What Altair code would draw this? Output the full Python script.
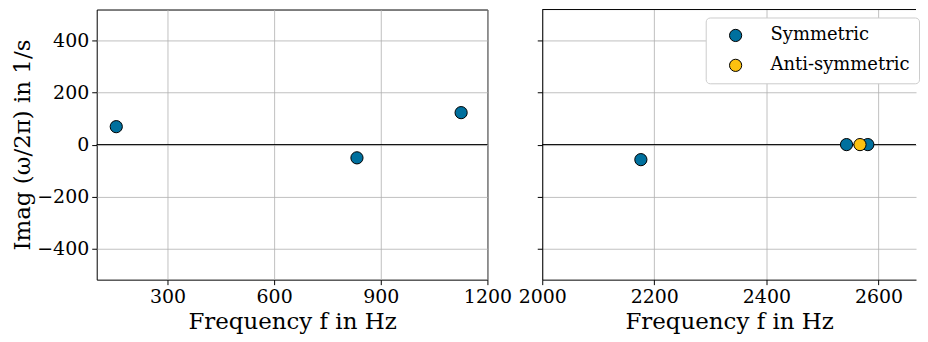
import altair as alt
import pandas as pd

# ---- data ----
left_freq = [156, 833, 1126]
left_imag = [69, -51, 123]
left_type = ["Symmetric", "Symmetric", "Symmetric"]

right_freq = [2176, 2543, 2581, 2567]
right_imag = [-58, 0, 0, 0]
right_type = ["Symmetric", "Symmetric", "Symmetric", "Anti-symmetric"]

types = ["Symmetric", "Anti-symmetric"]
colors = ["#00709e", "#fcc110"]

y_ticks = [-400, -200, 0, 200, 400]
left_ticks = [300, 600, 900, 1200]
right_ticks = [2000, 2200, 2400, 2600]

left_df = pd.DataFrame({"f": left_freq, "im": left_imag, "type": left_type})
right_df = pd.DataFrame({"f": right_freq, "im": right_imag, "type": right_type})
zero_df = pd.DataFrame({"y": [0]})

FONT = "DejaVu Serif"
H = 271
YDOM = [-520, 520]


def panel(df, xdom, xticks, width, left_panel, legend):
    y_axis = alt.Axis(
        values=y_ticks,
        format="d",
        labels=left_panel,
        title="Imag (ω/2π) in 1/s" if left_panel else None,
        grid=True,
        gridColor="#b0b0b0",
        gridWidth=0.8,
        tickColor="black",
        tickSize=5,
        domain=not left_panel,
        domainColor="black",
        domainWidth=1,
        labelFontSize=19,
        labelPadding=3,
        titleFontSize=23,
        titleFontWeight="normal",
        titlePadding=2,
        labelFont=FONT,
        titleFont=FONT,
        labelColor="black",
        titleColor="black",
    )
    x_axis = alt.Axis(
        values=xticks,
        format="d",
        title="Frequency f in Hz",
        grid=True,
        gridColor="#b0b0b0",
        gridWidth=0.8,
        tickColor="black",
        tickSize=5,
        domain=not left_panel,
        domainColor="black",
        domainWidth=1,
        labelFontSize=19,
        labelPadding=3,
        titleFontSize=23,
        titleFontWeight="normal",
        titlePadding=4,
        labelFont=FONT,
        titleFont=FONT,
        labelColor="black",
        titleColor="black",
        labelFlush=False,
        labelOverlap=False,
    )
    xs = alt.Scale(domain=xdom, nice=False, zero=False)
    ys = alt.Scale(domain=YDOM, nice=False)

    zero = alt.Chart(zero_df).mark_rule(color="black", strokeWidth=1).encode(
        y=alt.Y("y:Q", scale=ys, axis=y_axis)
    )
    pts = alt.Chart(df).mark_point(
        filled=True, size=150, stroke="black", strokeWidth=1, opacity=1
    ).encode(
        x=alt.X("f:Q", scale=xs, axis=x_axis),
        y=alt.Y("im:Q", scale=ys, axis=y_axis),
        color=alt.Color(
            "type:N",
            scale=alt.Scale(domain=types, range=colors),
            legend=legend,
        ),
    )
    layers = [zero]
    if not left_panel:
        # top frame line at the upper end of the y domain (plot is cut at the right)
        top_df = pd.DataFrame({"y": [YDOM[1]]})
        layers.append(
            alt.Chart(top_df).mark_rule(color="black", strokeWidth=1).encode(
                y=alt.Y("y:Q", scale=ys, axis=y_axis)
            )
        )
    layers.append(pts)
    ch = alt.layer(*layers).properties(width=width, height=H)
    if not left_panel:
        ch = ch.properties(view=alt.ViewBackground(strokeOpacity=0))
    return ch


legend = alt.Legend(
    title=None,
    orient="none",
    legendX=164,
    legendY=8,
    symbolType="circle",
    symbolSize=150,
    symbolStrokeColor="black",
    symbolStrokeWidth=1,
    symbolOffset=12,
    labelFont=FONT,
    labelFontSize=18,
    labelColor="black",
    labelOffset=26,
    rowPadding=12,
    padding=9,
    strokeColor="#cccccc",
    fillColor="white",
    cornerRadius=4,
)

left = panel(left_df, [101, 1200], left_ticks, 392, True, None)
right = panel(right_df, [2000, 2667], right_ticks, 375, False, legend)

chart = (
    alt.hconcat(left, right, spacing=55, bounds="flush")
    .resolve_scale(color="independent")
    .properties(padding={"left": 3, "top": 0, "right": 0, "bottom": 0})
    .configure_view(stroke="black", strokeWidth=1)
)

chart.save("out.html", embed_options={"renderer": "svg", "actions": False})
